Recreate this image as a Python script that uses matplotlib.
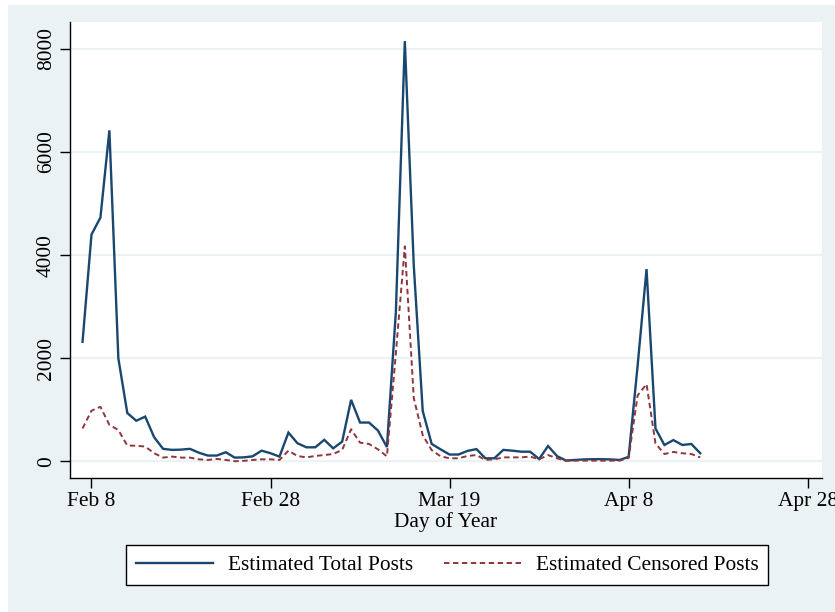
import datetime as dt

import matplotlib
matplotlib.use("Agg")
import matplotlib.pyplot as plt
import matplotlib.dates as mdates
from matplotlib.lines import Line2D
from matplotlib.patches import Rectangle

# daily estimates, Feb 7 .. Apr 16 2012
start_day = dt.date(2012, 2, 7)
total_posts = [
    2320, 4400, 4730, 6420, 2000, 940, 790, 870, 470, 245,
    225, 230, 245, 170, 115, 115, 180, 75, 80, 100,
    210, 160, 95, 560, 355, 275, 275, 420, 255, 385,
    1195, 755, 755, 600, 280, 2900, 8150, 3800, 980, 340,
    235, 135, 135, 205, 240, 62, 62, 225, 210, 190,
    190, 48, 300, 105, 18, 30, 40, 45, 45, 40,
    30, 90, 1850, 3730, 640, 320, 415, 320, 340, 160,
]
censored_posts = [
    640, 985, 1060, 710, 610, 310, 305, 290, 160, 75,
    95, 75, 75, 42, 30, 50, 30, 5, 12, 30,
    42, 42, 30, 210, 107, 80, 107, 125, 145, 225,
    625, 365, 340, 235, 100, 2100, 4170, 1230, 510, 220,
    100, 62, 62, 107, 125, 30, 42, 80, 80, 80,
    95, 42, 125, 62, 16, 16, 16, 16, 16, 16,
    16, 70, 1280, 1500, 350, 145, 185, 160, 145, 80,
]
days = [start_day + dt.timedelta(days=i) for i in range(len(total_posts))]

tick_days = [dt.date(2012, 2, 8), dt.date(2012, 2, 28), dt.date(2012, 3, 19),
             dt.date(2012, 4, 8), dt.date(2012, 4, 28)]
y_ticks = [0, 2000, 4000, 6000, 8000]

navy = "#1a476f"
maroon = "#90353b"
region_bg = "#eaf2f3"
dashes = (0, (2.8, 1.8))

plt.rcParams["font.family"] = ["Liberation Serif", "DejaVu Serif"]
plt.rcParams["font.size"] = 15.4

W, H = 835, 612
fig = plt.figure(figsize=(W / 100, H / 100), dpi=100)
fig.patch.set_facecolor("white")
# graph region background sits behind the axes
fig.patches.append(Rectangle((8 / W, 0.0), 1.0, 1 - 5 / H, transform=fig.transFigure,
                             facecolor=region_bg, edgecolor="none", zorder=-10))

ax = fig.add_axes([70 / W, 1 - 478 / H, (822 - 70) / W, (478 - 22) / H])
ax.set_facecolor("white")

ax.plot(days, total_posts, color=navy, lw=1.7, solid_joinstyle="miter")
ax.plot(days, censored_posts, color=maroon, lw=1.4, linestyle=dashes)

x0 = mdates.date2num(dt.date(2012, 2, 8))
ax.set_xlim(x0 - 2.4, x0 + 81.6)
ax.set_ylim(-320, 8520)

ax.set_xticks(tick_days)
ax.xaxis.set_major_formatter(plt.FuncFormatter(
    lambda v, _: "{:%b} {}".format(mdates.num2date(v), mdates.num2date(v).day)))
ax.set_yticks(y_ticks)
for lab in ax.get_yticklabels():
    lab.set_rotation(90)
    lab.set_va("center")

ax.grid(axis="y", color=region_bg, lw=1.6)
ax.set_axisbelow(True)
for side in ("top", "right"):
    ax.spines[side].set_visible(False)
for side in ("left", "bottom"):
    ax.spines[side].set_linewidth(1.0)
ax.tick_params(direction="out", length=7, width=1.0, pad=3)

ax.set_xlabel("Day of Year", labelpad=1)

handles = [Line2D([], [], color=navy, lw=1.7),
           Line2D([], [], color=maroon, lw=1.4, linestyle=dashes)]
fig.legend(handles, ["Estimated Total Posts", "Estimated Censored Posts"],
           ncol=2, loc="center", bbox_to_anchor=(447 / W, 1 - 565 / H),
           frameon=True, fancybox=False, edgecolor="black", framealpha=1,
           handlelength=3.6, handletextpad=0.7, columnspacing=1.45,
           borderpad=0.45)

fig.savefig("out.png", dpi=100)
